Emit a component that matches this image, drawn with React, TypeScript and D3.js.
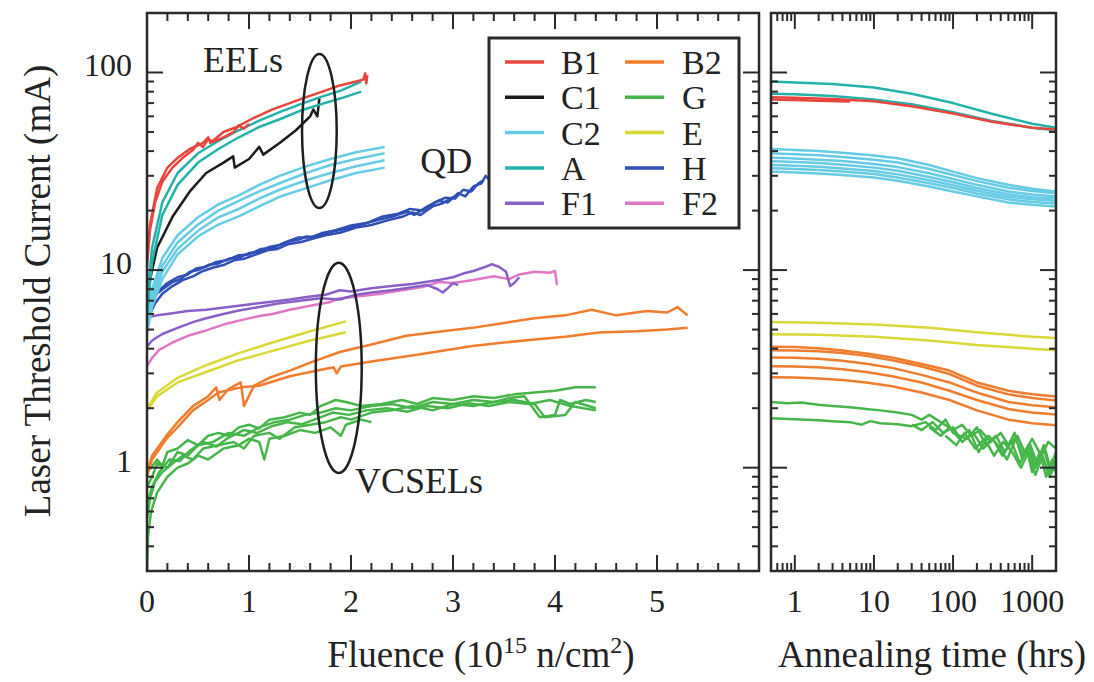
import React from 'react';
import * as d3 from 'd3';

type Pt = [number, number];

// legend / device ids
const devices = ['B1', 'C1', 'C2', 'A', 'F1', 'B2', 'G', 'E', 'H', 'F2'];
const deviceColor: Record<string, string> = {
  B1: '#e8463d', C1: '#1b1b1b', C2: '#66cbe4', A: '#22b2aa', F1: '#8a60c8',
  B2: '#f07c2d', G: '#46b64a', E: '#d8d836', H: '#2e4fb4', F2: '#e276c6'
};

// tick labels
const yTickLabels = [1, 10, 100];
const fluenceTickLabels = [0, 1, 2, 3, 4, 5];
const annealTickLabels = [1, 10, 100, 1000];

// ---- left panel: threshold current (mA) vs fluence (1e15 n/cm2) ----
const fluenceB1: Pt[][] = [
  [[0, 12], [0.03, 17], [0.1, 26], [0.2, 33], [0.3, 37], [0.42, 41], [0.55, 44], [0.6, 47], [0.62, 44], [0.75, 50], [0.88, 53], [1.05, 59], [1.23, 65], [1.4, 70], [1.56, 75], [1.72, 80], [1.89, 86], [2.05, 90], [2.12, 92], [2.14, 99], [2.15, 88], [2.16, 97]],
  [[0, 10.5], [0.03, 16], [0.08, 22], [0.15, 28], [0.25, 33], [0.35, 37], [0.45, 40.5], [0.5, 44], [0.55, 42], [0.6, 46], [0.65, 44.5], [0.75, 47], [0.85, 50], [0.9, 54], [0.95, 52], [1.0, 55]]
];
const fluenceC1: Pt[][] = [
  [[0, 6.5], [0.03, 9], [0.1, 13], [0.25, 18.6], [0.42, 25], [0.58, 31], [0.75, 35], [0.845, 37.6], [0.86, 33], [1.0, 36.5], [1.1, 42], [1.14, 38.4], [1.3, 44], [1.46, 51], [1.6, 60], [1.63, 65], [1.67, 60], [1.69, 74]]
];
const fluenceC2: Pt[][] = [
  [[0, 5.5], [0.05, 8], [0.15, 11.5], [0.3, 15], [0.5, 18.5], [0.7, 21.5], [0.91, 24], [1.1, 27], [1.3, 30], [1.56, 33.5], [1.8, 36.5], [2.05, 39.5], [2.33, 42]],
  [[0, 5.2], [0.05, 7.5], [0.15, 10.5], [0.3, 13.8], [0.5, 17], [0.7, 20], [0.91, 22.5], [1.1, 25], [1.3, 27.5], [1.56, 31], [1.8, 34], [2.05, 36.5], [2.33, 39]],
  [[0, 5], [0.05, 7], [0.15, 9.8], [0.3, 12.8], [0.5, 15.8], [0.7, 18.5], [0.91, 20.5], [1.1, 23], [1.3, 25.5], [1.56, 28.5], [1.8, 31], [2.05, 33.5], [2.33, 36]],
  [[0, 4.8], [0.05, 6.5], [0.15, 9], [0.3, 12], [0.5, 14.8], [0.7, 17], [0.91, 18.8], [1.1, 21], [1.3, 23.5], [1.56, 26], [1.8, 28.5], [2.05, 31], [2.33, 33]]
];
const fluenceA: Pt[][] = [
  [[0, 7], [0.05, 13], [0.15, 22], [0.3, 31], [0.5, 39], [0.7, 45], [0.9, 51], [1.1, 57], [1.3, 63], [1.5, 69], [1.7, 75], [1.9, 81], [2.1, 90]],
  [[0, 6], [0.05, 11], [0.15, 19], [0.3, 27], [0.5, 35], [0.7, 41], [0.9, 47], [1.1, 53], [1.3, 58], [1.5, 64], [1.7, 69], [1.9, 74], [2.1, 80]]
];
const fluenceH: Pt[][] = [
  [[0, 5.0], [0.01, 6.2], [0.05, 7.0], [0.1, 7.6], [0.18, 8.2], [0.25, 8.7], [0.33, 9.0], [0.42, 9.8], [0.5, 10.0], [0.6, 10.6], [0.7, 10.8], [0.8, 11.4], [0.91, 11.6], [1.0, 12.2], [1.1, 12.4], [1.2, 13.1], [1.3, 13.4], [1.4, 14.0], [1.5, 14.3], [1.56, 14.8], [1.65, 14.7], [1.8, 15.6], [1.95, 16.2], [2.1, 17.0], [2.28, 18.0], [2.4, 18.6], [2.55, 19.8], [2.62, 19.0], [2.75, 21.0], [2.86, 22.4], [2.95, 22.0], [3.05, 24.5], [3.12, 23.6], [3.2, 26.5], [3.28, 27.5], [3.32, 30], [3.36, 28.5]],
  [[0, 5.5], [0.02, 6.6], [0.06, 7.4], [0.12, 7.9], [0.2, 8.6], [0.3, 9.2], [0.4, 9.5], [0.48, 10.2], [0.58, 10.4], [0.68, 11.0], [0.78, 11.2], [0.9, 11.9], [1.0, 12.0], [1.12, 12.8], [1.25, 13.0], [1.35, 13.8], [1.48, 14.6], [1.6, 14.6], [1.72, 15.4], [1.85, 15.9], [2.0, 16.8], [2.15, 17.3], [2.3, 18.6], [2.45, 19.2], [2.58, 20.4], [2.7, 20.0], [2.82, 22.0], [2.92, 23.2], [3.02, 23.0], [3.1, 25.5], [3.18, 25.0], [3.25, 27.5], [3.3, 28.5]],
  [[0, 4.9], [0.03, 6.0], [0.08, 6.8], [0.15, 7.6], [0.25, 8.3], [0.35, 8.9], [0.45, 9.3], [0.55, 9.9], [0.65, 10.3], [0.75, 10.6], [0.85, 11.2], [0.95, 11.4], [1.05, 11.9], [1.18, 12.6], [1.28, 12.8], [1.38, 13.5], [1.52, 13.9], [1.62, 14.4], [1.75, 15.0], [1.9, 15.5], [2.05, 16.4], [2.2, 16.9], [2.35, 17.8], [2.5, 18.6], [2.6, 19.6], [2.68, 19.0], [2.8, 21.0], [2.9, 21.8], [3.0, 23.4]]
];
const fluenceF1: Pt[][] = [
  [[0, 5.6], [0.03, 5.8], [0.1, 5.9], [0.25, 6.05], [0.4, 6.2], [0.58, 6.3], [0.8, 6.5], [1.0, 6.7], [1.2, 6.9], [1.4, 7.1], [1.6, 7.35], [1.75, 7.5], [1.89, 7.9], [2.0, 7.8], [2.2, 8.1], [2.4, 8.3], [2.6, 8.5], [2.86, 8.9], [3.0, 9.2], [3.1, 9.6], [3.2, 9.9], [3.3, 10.3], [3.38, 10.7], [3.45, 10.4], [3.52, 9.8], [3.56, 8.3], [3.6, 8.6], [3.65, 9.2]],
  [[0, 4.1], [0.05, 4.4], [0.15, 4.75], [0.3, 5.1], [0.45, 5.45], [0.58, 5.7], [0.75, 6.0], [0.9, 6.25], [1.1, 6.5], [1.3, 6.8], [1.5, 7.0], [1.7, 7.2], [1.89, 7.1], [2.05, 7.5], [2.2, 7.7], [2.4, 7.9], [2.6, 8.2], [2.75, 8.4], [2.85, 8.0], [2.9, 7.7], [2.95, 8.1], [3.0, 8.6], [3.05, 8.4]]
];
const fluenceF2: Pt[][] = [
  [[0, 3.27], [0.05, 3.6], [0.12, 3.95], [0.25, 4.3], [0.4, 4.65], [0.58, 4.95], [0.75, 5.3], [0.9, 5.55], [1.1, 5.85], [1.23, 6.0], [1.4, 6.3], [1.6, 6.6], [1.8, 6.9], [1.89, 7.2], [2.1, 7.4], [2.3, 7.6], [2.5, 7.9], [2.7, 8.2], [2.86, 8.7], [3.0, 8.6], [3.2, 8.9], [3.4, 9.3], [3.55, 9.0], [3.65, 9.5], [3.8, 9.8], [3.95, 9.7], [4.0, 9.9], [4.02, 8.4]]
];
const fluenceE: Pt[][] = [
  [[0, 2.0], [0.1, 2.4], [0.3, 2.85], [0.58, 3.3], [0.9, 3.8], [1.23, 4.3], [1.6, 4.9], [1.95, 5.5]],
  [[0, 1.95], [0.1, 2.3], [0.3, 2.7], [0.58, 3.05], [0.9, 3.5], [1.23, 3.9], [1.6, 4.4], [1.95, 4.85]]
];
const fluenceB2: Pt[][] = [
  [[0, 0.95], [0.05, 1.15], [0.19, 1.45], [0.3, 1.7], [0.45, 2.05], [0.6, 2.3], [0.68, 2.55], [0.71, 2.2], [0.8, 2.5], [0.92, 2.7], [0.95, 2.05], [1.05, 2.6], [1.2, 2.85], [1.4, 3.1], [1.6, 3.4], [1.89, 3.85], [2.2, 4.2], [2.54, 4.65], [2.9, 4.9], [3.19, 5.1], [3.5, 5.4], [3.8, 5.7], [4.1, 5.9], [4.36, 6.3], [4.6, 5.9], [4.9, 6.2], [5.1, 6.1], [5.2, 6.5], [5.3, 5.9]],
  [[0, 0.9], [0.05, 1.1], [0.19, 1.4], [0.3, 1.6], [0.45, 1.95], [0.6, 2.2], [0.7, 2.4], [0.92, 2.55], [1.1, 2.6], [1.4, 2.9], [1.6, 3.05], [1.83, 3.22], [1.86, 3.0], [1.9, 3.25], [2.2, 3.45], [2.6, 3.7], [3.19, 4.13], [3.5, 4.3], [3.8, 4.45], [4.1, 4.6], [4.43, 4.83], [4.8, 4.9], [5.1, 5.0], [5.3, 5.1]]
];
const fluenceG: Pt[][] = [
  [[0, 0.95], [0.04, 1.0], [0.1, 1.1], [0.15, 1.02], [0.2, 1.2], [0.3, 1.25], [0.4, 1.38], [0.5, 1.3], [0.6, 1.45], [0.7, 1.5], [0.8, 1.45], [0.9, 1.6], [1.0, 1.65], [1.1, 1.58], [1.2, 1.75], [1.35, 1.8], [1.5, 1.9], [1.6, 1.85], [1.7, 2.05], [1.85, 2.2], [1.95, 2.15], [2.1, 2.05], [2.3, 2.1], [2.5, 2.2], [2.65, 2.1], [2.8, 2.25], [3.0, 2.2], [3.2, 2.3], [3.4, 2.25], [3.6, 2.35], [3.8, 2.4], [4.0, 2.45], [4.2, 2.55], [4.4, 2.55]],
  [[0, 0.8], [0.05, 0.9], [0.1, 1.05], [0.2, 1.0], [0.3, 1.2], [0.4, 1.15], [0.5, 1.3], [0.65, 1.35], [0.8, 1.5], [0.95, 1.45], [1.1, 1.6], [1.25, 1.7], [1.4, 1.75], [1.55, 1.85], [1.7, 1.9], [1.85, 2.0], [2.0, 1.95], [2.2, 2.05], [2.4, 2.1], [2.6, 2.0], [2.8, 2.15], [3.0, 2.1], [3.2, 2.2], [3.4, 2.15], [3.55, 2.25], [3.7, 2.3], [3.85, 1.8], [4.0, 1.85], [4.05, 2.2], [4.15, 2.1], [4.3, 2.2], [4.4, 2.15]],
  [[0, 0.55], [0.03, 0.7], [0.08, 0.85], [0.15, 0.95], [0.25, 1.05], [0.35, 1.15], [0.45, 1.1], [0.55, 1.25], [0.7, 1.3], [0.85, 1.35], [0.95, 1.25], [1.05, 1.45], [1.2, 1.5], [1.3, 1.4], [1.45, 1.6], [1.6, 1.65], [1.75, 1.7], [1.9, 1.8], [2.0, 1.75], [2.2, 1.9], [2.4, 1.95], [2.6, 2.05], [2.8, 1.95], [3.0, 2.1], [3.2, 2.05], [3.4, 2.15], [3.6, 2.2], [3.8, 2.1], [3.9, 1.8], [4.1, 1.85], [4.2, 2.15], [4.4, 2.0]],
  [[0, 0.3], [0.01, 0.45], [0.04, 0.6], [0.1, 0.75], [0.2, 0.9], [0.3, 1.0], [0.4, 1.05], [0.5, 1.15], [0.6, 1.1], [0.75, 1.25], [0.9, 1.3], [1.0, 1.4], [1.1, 1.35], [1.15, 1.1], [1.2, 1.4], [1.35, 1.45], [1.5, 1.55], [1.65, 1.5], [1.8, 1.6], [1.9, 1.45], [1.95, 1.65], [2.1, 1.75], [2.2, 1.7]],
  [[0, 0.65], [0.05, 0.8], [0.12, 0.95], [0.22, 1.1], [0.32, 1.08], [0.42, 1.22], [0.55, 1.35], [0.68, 1.28], [0.8, 1.42], [0.95, 1.55], [1.08, 1.5], [1.22, 1.62], [1.38, 1.7], [1.52, 1.66], [1.68, 1.78], [1.82, 1.9], [1.98, 1.85], [2.15, 1.95], [2.35, 2.0], [2.55, 1.92], [2.75, 2.05], [2.95, 2.0], [3.15, 2.12], [3.35, 2.05], [3.55, 2.15], [3.75, 2.1], [3.95, 2.2], [4.15, 2.05], [4.4, 1.95]]
];

// ---- right panel: threshold current (mA) vs annealing time (hrs) ----
const annealB1: Pt[][] = [
  [[0.5, 75], [1, 74.5], [3, 73.5], [10, 71.5], [30, 67.5], [100, 62], [300, 56.5], [1000, 52.5], [2000, 51.5]],
  [[0.5, 73], [1, 72.5], [2, 72], [3.5, 71.5], [5, 71.3]]
];
const annealA: Pt[][] = [
  [[0.5, 90], [1, 89], [3, 87.5], [10, 84], [30, 78], [100, 70], [300, 62], [1000, 55], [2000, 52.5]],
  [[0.5, 78], [1, 77.5], [3, 76], [10, 73], [30, 69], [100, 63], [300, 57], [1000, 52.5], [2000, 51]]
];
const annealC2: Pt[][] = [
  [[0.5, 41], [0.7, 40.8], [1, 40.5], [2, 40], [4, 39.2], [10, 38], [20, 36.8], [50, 34], [100, 31.5], [200, 29.2], [500, 27], [1000, 25.8], [2000, 25]],
  [[0.5, 39], [0.7, 38.8], [1, 38.6], [2, 38.1], [4, 37.4], [10, 36.2], [20, 35], [50, 32.5], [100, 30.3], [200, 28.2], [500, 26.1], [1000, 25.1], [2000, 24.5]],
  [[0.5, 37], [0.7, 36.9], [1, 36.7], [2, 36.2], [4, 35.6], [10, 34.4], [20, 33.2], [50, 30.9], [100, 28.9], [200, 27], [500, 25], [1000, 24.1], [2000, 23.6]],
  [[0.5, 35.5], [0.7, 35.4], [1, 35.2], [2, 34.8], [4, 34.1], [10, 33], [20, 31.8], [50, 29.6], [100, 27.8], [200, 26], [500, 24.2], [1000, 23.4], [2000, 23]],
  [[0.5, 34], [0.7, 33.9], [1, 33.7], [2, 33.3], [4, 32.7], [10, 31.7], [20, 30.5], [50, 28.5], [100, 26.9], [200, 25.2], [500, 23.5], [1000, 22.8], [2000, 22.4]],
  [[0.5, 32.8], [0.7, 32.7], [1, 32.5], [2, 32.1], [4, 31.5], [10, 30.6], [20, 29.4], [50, 27.5], [100, 26], [200, 24.4], [500, 22.8], [1000, 22.1], [2000, 21.7]],
  [[0.5, 31.5], [0.7, 31.4], [1, 31.2], [2, 30.8], [4, 30.3], [10, 29.4], [20, 28.3], [50, 26.5], [100, 25], [200, 23.6], [500, 22], [1000, 21.4], [2000, 21]]
];
const annealE: Pt[][] = [
  [[0.5, 5.46], [2, 5.42], [10, 5.3], [50, 5.1], [200, 4.85], [1000, 4.6], [2000, 4.53]],
  [[0.5, 4.73], [2, 4.7], [10, 4.6], [50, 4.4], [200, 4.18], [1000, 4.0], [2000, 3.93]]
];
const annealB2: Pt[][] = [
  [[0.5, 4.09], [1, 4.08], [2, 4.02], [4, 3.92], [8, 3.78], [17, 3.61], [40, 3.35], [90, 3.1], [200, 2.7], [500, 2.45], [1000, 2.35], [2000, 2.29]],
  [[0.5, 3.93], [1, 3.92], [2, 3.88], [4, 3.8], [8, 3.68], [17, 3.5], [40, 3.25], [90, 2.98], [200, 2.6], [500, 2.35], [1000, 2.25], [2000, 2.19]],
  [[0.5, 3.61], [1, 3.6], [2, 3.56], [4, 3.48], [8, 3.36], [17, 3.2], [40, 2.95], [90, 2.7], [200, 2.4], [500, 2.15], [1000, 2.07], [2000, 2.02]],
  [[0.5, 3.26], [1, 3.25], [2, 3.22], [4, 3.15], [8, 3.05], [17, 2.9], [40, 2.7], [90, 2.45], [200, 2.2], [500, 1.98], [1000, 1.9], [2000, 1.86]],
  [[0.5, 2.87], [1, 2.86], [2, 2.83], [4, 2.78], [8, 2.7], [17, 2.58], [40, 2.4], [90, 2.2], [200, 1.95], [500, 1.75], [1000, 1.68], [2000, 1.64]]
];
const annealG: Pt[][] = [
  [[0.5, 2.15], [0.8, 2.12], [1.2, 2.14], [2, 2.08], [3, 2.05], [5, 2.02], [8, 1.98], [12, 1.95], [20, 1.9], [30, 1.85], [40, 1.75], [50, 1.85], [70, 1.7], [100, 1.55], [130, 1.65], [170, 1.45], [220, 1.55], [300, 1.35], [400, 1.5], [500, 1.3], [650, 1.45], [800, 1.2], [1000, 1.4], [1300, 1.15], [1600, 1.35], [2000, 1.25]],
  [[0.5, 1.78], [1, 1.76], [2, 1.74], [3, 1.72], [5, 1.7], [7, 1.65], [9, 1.72], [12, 1.68], [20, 1.66], [30, 1.62], [45, 1.7], [60, 1.55], [80, 1.75], [100, 1.5], [150, 1.4], [200, 1.6], [260, 1.3], [350, 1.45], [450, 1.2], [600, 1.5], [750, 1.1], [900, 1.3], [1100, 1.0], [1400, 1.25], [1700, 0.95], [2000, 1.1]],
  [[30, 1.65], [40, 1.55], [55, 1.7], [75, 1.5], [100, 1.6], [130, 1.35], [180, 1.5], [240, 1.25], [320, 1.4], [420, 1.15], [550, 1.35], [700, 1.05], [850, 1.25], [1000, 0.95], [1250, 1.2], [1500, 0.9], [1800, 1.1], [2000, 0.95]],
  [[50, 1.6], [70, 1.45], [90, 1.6], [120, 1.4], [160, 1.55], [210, 1.2], [280, 1.45], [370, 1.3], [480, 1.1], [620, 1.4], [780, 1.15], [950, 1.3], [1150, 1.05], [1400, 1.3], [1700, 1.0], [2000, 1.2]],
  [[80, 1.45], [110, 1.3], [140, 1.5], [190, 1.25], [250, 1.4], [330, 1.15], [430, 1.35], [560, 1.2], [720, 1.0], [900, 1.2], [1100, 0.92], [1350, 1.15], [1650, 0.9], [2000, 1.05]]
];

const fluenceSeries: [string, Pt[][]][] = [
  ['G', fluenceG], ['B2', fluenceB2], ['E', fluenceE], ['F2', fluenceF2], ['F1', fluenceF1],
  ['H', fluenceH], ['C2', fluenceC2], ['C1', fluenceC1], ['A', fluenceA], ['B1', fluenceB1]
];
const annealSeries: [string, Pt[][]][] = [
  ['G', annealG], ['B2', annealB2], ['E', annealE], ['C2', annealC2], ['A', annealA], ['B1', annealB1]
];

// layout
const W = 1094, H = 682;
const top = 13, bottom = 571;
const leftPanel = { x0: 147, x1: 759 };
const rightPanel = { x0: 771, x1: 1056 };
const font = '"Liberation Serif", "Times New Roman", serif';
const ink = '#2a2a2a';

const yScale = d3.scaleLog().domain([0.3, 200]).range([bottom, top]);
const xFluence = d3.scaleLinear().domain([0, 6]).range([leftPanel.x0, leftPanel.x1]);
const xAnneal = d3.scaleLog().domain([0.5, 2000]).range([rightPanel.x0, rightPanel.x1]);

const isDecade = (v: number) => Math.abs(Math.log10(v) - Math.round(Math.log10(v))) < 1e-6;

const YTicks = ({ x0, x1 }: { x0: number; x1: number }) => (
  <g stroke={ink} strokeWidth={2}>
    {yScale.ticks().map((v, i) => {
      const len = isDecade(v) ? 16 : 7;
      const y = yScale(v);
      return (
        <g key={i}>
          <line x1={x0} x2={x0 + len} y1={y} y2={y} />
          <line x1={x1} x2={x1 - len} y1={y} y2={y} />
        </g>
      );
    })}
  </g>
);

const Panel = ({ x, series, id, xTicks }: {
  x: any; series: [string, Pt[][]][]; id: string; xTicks: { v: number; major: boolean }[];
}) => {
  const [x0, x1] = x.range();
  const line = d3.line<Pt>().x(d => x(d[0])).y(d => yScale(d[1]));
  return (
    <g>
      <clipPath id={id}>
        <rect x={x0} y={top} width={x1 - x0} height={bottom - top} />
      </clipPath>
      <g clipPath={`url(#${id})`} fill="none" strokeWidth={2.5} strokeLinejoin="round">
        {series.map(([key, curves]) =>
          curves.map((c, i) => (
            <path key={key + i} d={line(c) || ''} stroke={deviceColor[key]} />
          ))
        )}
      </g>
      <YTicks x0={x0} x1={x1} />
      <g stroke={ink} strokeWidth={2}>
        {xTicks.map((t, i) => {
          const len = t.major ? 16 : 8;
          const px = x(t.v);
          return (
            <g key={i}>
              <line x1={px} x2={px} y1={bottom} y2={bottom - len} />
              <line x1={px} x2={px} y1={top} y2={top + len} />
            </g>
          );
        })}
      </g>
      <rect x={x0} y={top} width={x1 - x0} height={bottom - top} fill="none" stroke={ink} strokeWidth={2.5} />
    </g>
  );
};

const Legend = () => {
  const bx = 489, by = 38, bw = 250, bh = 190;
  const rowH = 35.3, row0 = 62;
  return (
    <g>
      <rect x={bx} y={by} width={bw} height={bh} fill="#fff" stroke={ink} strokeWidth={3} />
      {devices.map((d, i) => {
        const col = Math.floor(i / 5), row = i % 5;
        const lx = col === 0 ? 505 : 625;
        const tx = col === 0 ? 561 : 682;
        const y = row0 + row * rowH;
        return (
          <g key={d}>
            <line x1={lx} x2={lx + 39} y1={y} y2={y} stroke={deviceColor[d]} strokeWidth={3.5} />
            <text x={tx} y={y + 12} fontSize={34} fontFamily={font} fill="#222">{d}</text>
          </g>
        );
      })}
    </g>
  );
};

export default function App() {
  const fluenceTicks = xFluence.ticks(30).map(v => ({ v, major: Math.abs(v - Math.round(v)) < 1e-6 }));
  const annealTicks = xAnneal.ticks().map(v => ({ v, major: isDecade(v) }));

  // annotation ellipses in data coordinates
  const eel = { f0: 1.52, f1: 1.86, lo: 20.6, hi: 124 };
  const vcsel = { f0: 1.655, f1: 2.105, lo: 0.94, hi: 10.9 };
  const ell = (e: typeof eel) => ({
    cx: (xFluence(e.f0) + xFluence(e.f1)) / 2,
    cy: (yScale(e.lo) + yScale(e.hi)) / 2,
    rx: (xFluence(e.f1) - xFluence(e.f0)) / 2,
    ry: (yScale(e.lo) - yScale(e.hi)) / 2
  });
  const e1 = ell(eel), e2 = ell(vcsel);

  return (
    <svg width={W} height={H} style={{ position: 'absolute', left: 0, top: 0, background: '#fff' }}
      fontFamily={font}>
      <Panel x={xFluence} series={fluenceSeries} id="clipL" xTicks={fluenceTicks} />
      <Panel x={xAnneal} series={annealSeries} id="clipR" xTicks={annealTicks} />

      {/* annotations */}
      <g fill="none" stroke="#1e1e1e" strokeWidth={2.5}>
        <ellipse {...e1} />
        <ellipse {...e2} />
      </g>
      <g fontSize={36} fill="#222">
        <text x={xFluence(0.55)} y={yScale(100)}>EELs</text>
        <text x={xFluence(2.68)} y={yScale(31)}>QD</text>
        <text x={xFluence(2.04)} y={yScale(0.745)}>VCSELs</text>
      </g>

      <Legend />

      {/* tick labels */}
      <g fontSize={32} fill="#222">
        {yTickLabels.map(v => (
          <text key={v} x={132} y={yScale(v) + 4} textAnchor="end">{v}</text>
        ))}
        {fluenceTickLabels.map(v => (
          <text key={v} x={xFluence(v)} y={612} textAnchor="middle">{v}</text>
        ))}
        {annealTickLabels.map(v => (
          <text key={v} x={xAnneal(v)} y={612} textAnchor="middle">{v}</text>
        ))}
      </g>

      {/* axis titles */}
      <g fontSize={37} fill="#222">
        <text transform="translate(50,291) rotate(-90)" textAnchor="middle">Laser Threshold Current (mA)</text>
        <text x={481} y={667} textAnchor="middle">
          Fluence (10<tspan fontSize={24} dy={-14}>15</tspan><tspan dy={14}> n/cm</tspan><tspan fontSize={24} dy={-14}>2</tspan><tspan dy={14}>)</tspan>
        </text>
        <text x={932} y={667} textAnchor="middle">Annealing time (hrs)</text>
      </g>
    </svg>
  );
}
